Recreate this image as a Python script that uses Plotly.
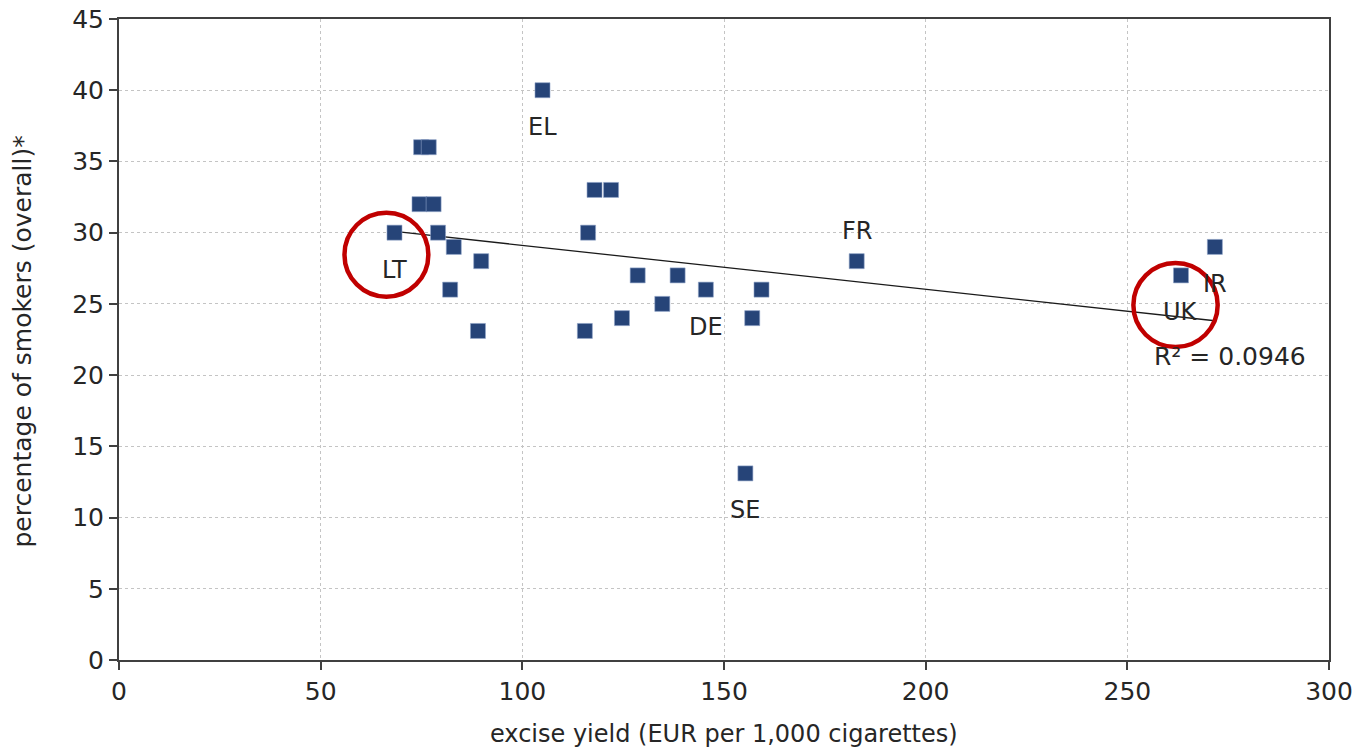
import numpy as np
import plotly.graph_objects as go

# excise yield (EUR per 1,000 cigarettes)
excise = [74.9, 76.8, 74.5, 78.0, 68.3, 79.1, 83.0, 89.8, 82.1, 89.0,
          105.0, 117.9, 122.0, 116.3, 128.6, 138.5, 145.5, 159.3, 134.7,
          124.7, 157.0, 115.5, 155.3, 182.9, 271.7, 263.3]
# percentage of smokers (overall)
smokers = [36, 36, 32, 32, 30, 30, 29, 28, 26, 23.1,
           40, 33, 33, 30, 27, 27, 26, 26, 25,
           24, 24, 23.1, 13.1, 28, 29, 27]
# country labels shown on the chart
labels = ["", "", "", "", "LT", "", "", "", "", "",
          "EL", "", "", "", "", "", "DE", "", "",
          "", "", "", "SE", "FR", "IR", "UK"]
label_below = [True] * len(labels)
label_below[23] = False  # FR is above its point

x_ticks = [0, 50, 100, 150, 200, 250, 300]
y_ticks = [0, 5, 10, 15, 20, 25, 30, 35, 40, 45]

FONT = "DejaVu Sans"
TXT = "#262626"

fig = go.Figure()

# linear trendline (least squares)
xa = np.array(excise)
ya = np.array(smokers)
slope, intercept = np.polyfit(xa, ya, 1)
xl = np.array([xa.min(), xa.max()])
fig.add_trace(go.Scatter(x=xl, y=slope * xl + intercept, mode="lines",
                         line=dict(color="#1a1a1a", width=1.3),
                         hoverinfo="skip", showlegend=False))

fig.add_trace(go.Scatter(
    x=excise, y=smokers, mode="markers",
    marker=dict(symbol="square", size=15, color="#264478",
                line=dict(color="#8ea3c8", width=0.6)),
    showlegend=False))

for xv, yv, lab, below in zip(excise, smokers, labels, label_below):
    if lab:
        fig.add_annotation(x=xv, y=yv, text=lab, showarrow=False,
                           yshift=-37 if below else 30,
                           font=dict(family=FONT, size=24, color=TXT))

fig.add_annotation(x=xa.max() + 3.7, y=21.3, text="R² = 0.0946", showarrow=False,
                   font=dict(family=FONT, size=25, color=TXT))

# axis titles
fig.add_annotation(xref="paper", yref="paper", x=0.5, y=0, yanchor="top",
                   yshift=-58, showarrow=False,
                   text="excise yield (EUR per 1,000 cigarettes)",
                   font=dict(family=FONT, size=24, color=TXT))
fig.add_annotation(xref="paper", yref="paper", x=0, y=0.5, xanchor="center",
                   xshift=-97, yshift=-2, textangle=-90, showarrow=False,
                   text="percentage of smokers (overall)*",
                   font=dict(family=FONT, size=25, color=TXT))

# highlight circles
circle_style = dict(type="circle", xref="x", yref="y",
                    line=dict(color="#C00000", width=4.5))
fig.add_shape(x0=55.9, x1=76.7, y0=25.5, y1=31.4, **circle_style)
fig.add_shape(x0=251.5, x1=272.4, y0=21.97, y1=27.87, **circle_style)

axis_common = dict(showline=True, linecolor="#404040", linewidth=2, mirror=True,
                   ticks="outside", ticklen=8, tickcolor="#404040", tickwidth=1.5,
                   showgrid=True, gridcolor="#c4c4c4", gridwidth=1, griddash="3px,3px",
                   zeroline=False, automargin=False, ticklabeloverflow="allow",
                   tickfont=dict(family=FONT, size=25, color=TXT))

fig.update_xaxes(range=[0, 300], tickvals=x_ticks, **axis_common)
fig.update_yaxes(range=[0, 45], tickvals=y_ticks, **axis_common)

fig.update_layout(width=1357, height=749,
                  margin=dict(l=119, r=28, t=19, b=89),
                  plot_bgcolor="white", paper_bgcolor="white",
                  font=dict(family=FONT, color=TXT))

fig.write_html("out.html", config={"displayModeBar": False},
               post_script="document.body.style.margin='0';document.body.style.overflow='hidden';")
